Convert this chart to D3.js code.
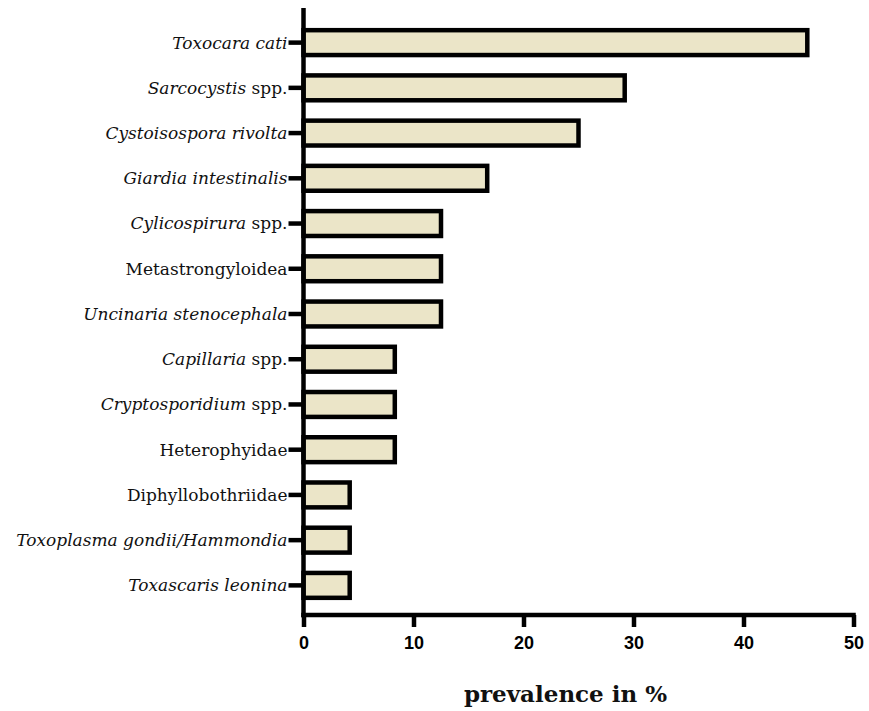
<!DOCTYPE html>
<html>
<head>
<meta charset="utf-8">
<script src="https://cdn.jsdelivr.net/npm/d3@7"></script>
<style>
  body { margin: 0; background: #fff; }
  .ylab { font-family: "DejaVu Serif", serif; font-size: 17px; }
  .xtick text { font-family: "Liberation Sans", Arial, sans-serif; font-weight: bold; font-size: 18px; }
</style>
</head>
<body>
<div id="container"></div>
<script>
/* DATA */
// each label is a list of [text, italic?] pieces
const labels = [
  [["Toxocara cati", true]],
  [["Sarcocystis", true], [" spp.", false]],
  [["Cystoisospora rivolta", true]],
  [["Giardia intestinalis", true]],
  [["Cylicospirura", true], [" spp.", false]],
  [["Metastrongyloidea", false]],
  [["Uncinaria stenocephala", true]],
  [["Capillaria", true], [" spp.", false]],
  [["Cryptosporidium", true], [" spp.", false]],
  [["Heterophyidae", false]],
  [["Diphyllobothriidae", false]],
  [["Toxoplasma gondii/Hammondia", true]],
  [["Toxascaris leonina", true]]
]
const prevalence = [45.8, 29.2, 25.0, 16.7, 12.5, 12.5, 12.5, 8.3, 8.3, 8.3, 4.2, 4.2, 4.2]
const xTicks = [0, 10, 20, 30, 40, 50]

const width = 869, height = 711
const margin = { top: 20, bottom: 103, left: 303.5, right: 15.5 }

const data = labels.map((l, i) => ({ id: i, label: l, value: prevalence[i] }))

const svg = d3.select("#container")
  .append("svg")
  .attr("width", width)
  .attr("height", height)

// SCALES
const xScale = d3.scaleLinear()
  .domain([0, 50])
  .range([margin.left, width - margin.right])

const yScale = d3.scaleBand()
  .domain(data.map(d => d.id))
  .range([margin.top, height - margin.bottom])
  .paddingInner(0.45)
  .paddingOuter(0.225)

// BARS
svg.selectAll(".bar")
  .data(data)
  .join("rect")
  .attr("class", "bar")
  .attr("x", xScale(0))
  .attr("y", d => yScale(d.id))
  .attr("width", d => xScale(d.value) - xScale(0))
  .attr("height", yScale.bandwidth())
  .attr("fill", "#ebe5c8")
  .attr("stroke", "#000")
  .attr("stroke-width", 4.5)

// X AXIS
const axisY = 615
const xAxis = d3.axisBottom(xScale)
  .tickValues(xTicks)
  .tickSize(12)
  .tickPadding(9)

const xAxisGroup = svg.append("g")
  .attr("class", "xtick")
  .attr("transform", `translate(0, ${axisY})`)
  .call(xAxis)
xAxisGroup.select(".domain").remove()
xAxisGroup.selectAll("line").attr("stroke", "#000").attr("stroke-width", 4.5)
xAxisGroup.selectAll("text").attr("fill", "#000")

svg.append("line")
  .attr("x1", xScale(0) - 2.25).attr("x2", xScale(50) + 2.25)
  .attr("y1", axisY).attr("y2", axisY)
  .attr("stroke", "#000").attr("stroke-width", 4.5)

// Y AXIS
svg.append("line")
  .attr("x1", xScale(0)).attr("x2", xScale(0))
  .attr("y1", 8).attr("y2", axisY + 2.25)
  .attr("stroke", "#000").attr("stroke-width", 4.5)

const yTicks = svg.selectAll(".ytick")
  .data(data)
  .join("g")
  .attr("class", "ytick")
  .attr("transform", d => `translate(${xScale(0)}, ${yScale(d.id) + yScale.bandwidth() / 2})`)

yTicks.append("line")
  .attr("x1", -15).attr("x2", 0)
  .attr("stroke", "#000").attr("stroke-width", 4.5)

const lab = yTicks.append("text")
  .attr("class", "ylab")
  .attr("x", -16)
  .attr("dy", "0.35em")
  .attr("text-anchor", "end")
  .attr("fill", "#111")

lab.selectAll("tspan")
  .data(d => d.label)
  .join("tspan")
  .attr("font-style", p => p[1] ? "italic" : "normal")
  .text(p => p[0])

// AXIS TITLE
svg.append("text")
  .attr("x", (xScale(0) + xScale(50)) / 2 - 13)
  .attr("y", 702)
  .attr("text-anchor", "middle")
  .attr("font-family", "DejaVu Serif, serif")
  .attr("font-weight", "bold")
  .attr("font-size", 23)
  .attr("fill", "#111")
  .text("prevalence in %")
</script>
</body>
</html>
